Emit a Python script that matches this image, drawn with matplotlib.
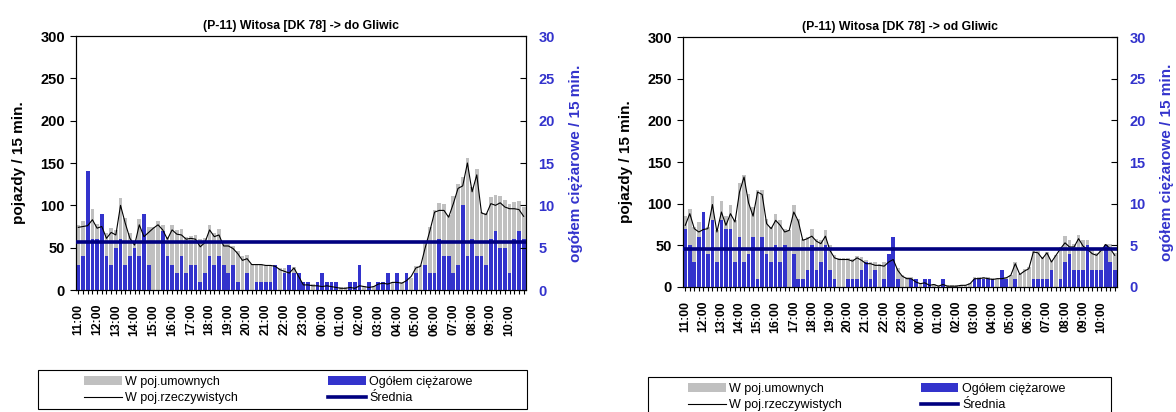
import matplotlib
matplotlib.use("Agg")
import matplotlib.pyplot as plt
import numpy as np
from matplotlib.patches import Patch, Rectangle
from matplotlib.lines import Line2D

plt.rcParams['font.family'] = ['Liberation Sans', 'DejaVu Sans']

# ---------------- data ----------------
hour_labels = ["11:00", "12:00", "13:00", "14:00", "15:00", "16:00", "17:00", "18:00",
               "19:00", "20:00", "21:00", "22:00", "23:00", "00:00", "01:00", "02:00",
               "03:00", "04:00", "05:00", "06:00", "07:00", "08:00", "09:00", "10:00"]

title_do = "(P-11) Witosa [DK 78] -> do Gliwic"
title_od = "(P-11) Witosa [DK 78] -> od Gliwic"

# W poj.umownych (grey bars, left axis)
do_umowne = [77, 81, 84, 96, 78, 80, 67, 73, 71, 109, 85, 67, 58, 84, 70, 74,
             74, 81, 77, 63, 77, 71, 72, 63, 64, 65, 60, 61, 77, 67, 72, 54,
             54, 52, 46, 40, 41, 31, 31, 31, 30, 30, 30, 26, 26, 27, 27, 20,
             9, 8, 7, 7, 7, 6, 6, 5, 4, 4, 4, 4, 6, 5, 5, 5,
             10, 10, 10, 9, 11, 10, 12, 14, 28, 29, 55, 75, 95, 103, 102, 88,
             111, 125, 134, 156, 122, 143, 92, 91, 110, 112, 111, 106, 102, 104, 105, 98]
# W poj.rzeczywistych (black line, left axis)
do_rzecz = [74, 75, 76, 83, 73, 75, 61, 68, 65, 100, 79, 61, 53, 77, 63, 68,
            73, 77, 71, 60, 71, 66, 65, 60, 61, 60, 51, 56, 71, 63, 65, 52,
            52, 49, 43, 35, 37, 30, 30, 30, 29, 29, 28, 24, 22, 20, 26, 16,
            6, 6, 5, 5, 4, 5, 4, 3, 2, 2, 3, 2, 5, 4, 3, 4,
            7, 8, 7, 9, 9, 8, 11, 16, 26, 28, 50, 70, 92, 94, 94, 86,
            102, 120, 123, 150, 116, 136, 91, 89, 102, 100, 103, 98, 96, 96, 95, 87]
# Ogółem ciężarowe (blue bars, right axis)
do_ciez = [3, 4, 14, 6, 6, 9, 4, 3, 5, 6, 3, 4, 5, 4, 9, 3,
           0, 0, 7, 4, 3, 2, 4, 2, 3, 3, 1, 2, 4, 3, 4, 3,
           2, 3, 1, 0, 2, 0, 1, 1, 1, 1, 3, 0, 2, 3, 2, 2,
           1, 1, 0, 1, 2, 1, 1, 1, 0, 0, 1, 1, 3, 0, 1, 0,
           1, 1, 2, 0, 2, 0, 2, 0, 2, 0, 3, 2, 2, 6, 4, 4,
           2, 3, 10, 4, 6, 4, 4, 3, 6, 7, 5, 5, 2, 6, 7, 6]
do_srednia = 57

od_umowne = [85, 94, 72, 78, 82, 72, 109, 68, 103, 85, 98, 80, 125, 135, 112, 96,
             117, 117, 82, 72, 88, 80, 70, 68, 98, 82, 58, 60, 70, 58, 56, 68,
             50, 38, 35, 35, 35, 34, 37, 36, 32, 30, 30, 28, 30, 37, 43, 23,
             14, 12, 12, 8, 5, 7, 4, 4, 2, 5, 2, 2, 2, 3, 3, 5,
             12, 12, 12, 12, 11, 10, 12, 12, 14, 30, 16, 22, 24, 43, 43, 36,
             42, 31, 39, 48, 61, 56, 52, 62, 56, 56, 44, 41, 47, 52, 52, 41]
od_rzecz = [74, 88, 70, 66, 69, 70, 99, 66, 90, 74, 88, 78, 114, 132, 101, 85,
            114, 111, 76, 70, 80, 74, 66, 68, 90, 79, 56, 58, 61, 55, 52, 61,
            44, 35, 33, 33, 33, 31, 35, 32, 28, 28, 26, 26, 25, 30, 33, 20,
            13, 10, 10, 6, 4, 5, 2, 3, 1, 3, 1, 1, 1, 2, 2, 4,
            10, 10, 11, 10, 9, 10, 10, 11, 14, 28, 15, 19, 22, 42, 41, 34,
            41, 30, 38, 46, 53, 48, 48, 58, 49, 45, 40, 38, 44, 51, 46, 38]
od_ciez = [7, 5, 3, 6, 9, 4, 8, 3, 8, 7, 7, 3, 6, 3, 4, 6,
           1, 6, 4, 3, 5, 3, 5, 0, 4, 1, 1, 2, 5, 2, 3, 5,
           2, 1, 0, 0, 1, 1, 1, 2, 3, 1, 2, 0, 1, 4, 6, 1,
           0, 0, 1, 1, 0, 1, 1, 0, 0, 1, 0, 0, 0, 0, 0, 0,
           1, 1, 1, 1, 1, 0, 2, 1, 0, 1, 0, 0, 0, 1, 1, 1,
           1, 2, 0, 1, 3, 4, 2, 2, 2, 5, 2, 2, 2, 5, 3, 2]
od_srednia = 46

legend_labels = ["W poj.umownych", "W poj.rzeczywistych", "Ogółem ciężarowe", "Średnia"]

# ---------------- style ----------------
GRAY = '#C0C0C0'
BLUE = '#3333CC'
NAVY = '#000080'

W, H = 1176, 412
fig = plt.figure(figsize=(W / 100, H / 100), dpi=100)


def px_rect(x0, y0, x1, y1):
    return [x0 / W, 1 - y1 / H, (x1 - x0) / W, (y1 - y0) / H]


def panel(rect, title, umowne, rzecz, ciez, srednia):
    n = len(umowne)
    x = np.arange(n)
    ax = fig.add_axes(rect)
    ax.bar(x, umowne, width=0.8, color=GRAY, linewidth=0)
    ax.set_xlim(-0.5, n - 0.5)
    ax.set_ylim(0, 300)
    ax.set_yticks(range(0, 301, 50))
    ax.set_xticks(x[::4])
    ax.set_xticklabels(hour_labels, rotation=90, fontsize=8.8, fontweight='bold')
    ax.set_xticks(x, minor=True)
    ax.tick_params(axis='x', which='both', direction='out', length=3, width=0.8, pad=7)
    ax.tick_params(axis='y', direction='out', length=4, width=0.8, labelsize=10.5, pad=4)
    for lab in ax.get_yticklabels():
        lab.set_fontweight('bold')
    ax.set_ylabel('pojazdy / 15 min.', fontsize=11, fontweight='bold', labelpad=10)
    ax.set_title(title, fontsize=8.8, fontweight='bold', pad=5)
    for sp in ax.spines.values():
        sp.set_linewidth(0.8)

    ax2 = ax.twinx()
    ax2.bar(x, ciez, width=0.8, color=BLUE, linewidth=0)
    ax2.set_ylim(0, 30)
    ax2.set_yticks(range(0, 31, 5))
    ax2.tick_params(axis='y', direction='in', length=4, width=0.8, labelsize=10.5,
                    labelcolor=BLUE, pad=9)
    for lab in ax2.get_yticklabels():
        lab.set_fontweight('bold')
    ax2.set_ylabel('ogółem ciężarowe / 15 min.', fontsize=11, fontweight='bold',
                   color=BLUE, labelpad=10)

    ax3 = fig.add_axes(rect, sharex=ax, sharey=ax)
    ax3.set_axis_off()
    ax3.patch.set_visible(False)
    ax3.plot(x, rzecz, color='black', lw=0.8)
    ax3.axhline(srednia, color=NAVY, lw=2.6)
    ax3.set_xlim(-0.5, n - 0.5)
    ax3.set_ylim(0, 300)
    return ax


panel(px_rect(76, 36, 526, 290), title_do, do_umowne, do_rzecz, do_ciez, do_srednia)
panel(px_rect(683, 37, 1117, 287), title_od, od_umowne, od_rzecz, od_ciez, od_srednia)


def legend_box(x0, y0, x1, y1, hx, colsp):
    fig.patches.append(Rectangle((x0 / W, 1 - y1 / H), (x1 - x0) / W, (y1 - y0) / H,
                                 transform=fig.transFigure, fill=False,
                                 edgecolor='black', linewidth=0.8))
    handles = [Patch(facecolor=GRAY, edgecolor='none'),
               Line2D([], [], color='black', lw=0.8),
               Patch(facecolor=BLUE, edgecolor='none'),
               Line2D([], [], color=NAVY, lw=2.6)]
    fig.legend(handles, legend_labels, loc='center left',
               bbox_to_anchor=(hx / W, 1 - (y0 + 20) / H), bbox_transform=fig.transFigure,
               ncol=2, frameon=False, fontsize=9, handlelength=3.0, handleheight=0.8,
               handletextpad=0.3, labelspacing=0.35, columnspacing=colsp, borderpad=0,
               borderaxespad=0)


legend_box(38, 370, 527, 409, 84, 7.2)
legend_box(648, 377, 1111, 420, 688, 6.3)

fig.savefig('out.png', dpi=100)
